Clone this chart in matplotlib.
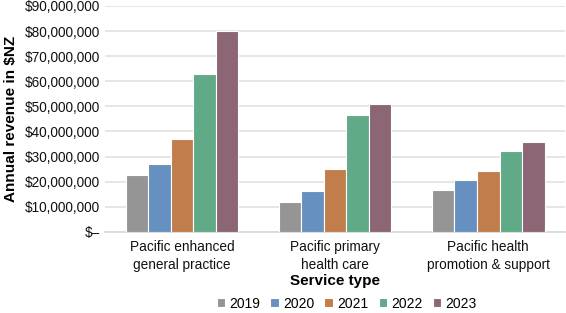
import numpy as np
import matplotlib
matplotlib.use('Agg')
import matplotlib.pyplot as plt
from matplotlib.ticker import FuncFormatter

plt.rcParams['font.family'] = ['Liberation Sans', 'DejaVu Sans']

# 데이터
services = ['Pacific enhanced\ngeneral practice', 'Pacific primary\nhealth care', 'Pacific health\npromotion & support']
years = ['2019', '2020', '2021', '2022', '2023']
rev_2019 = [22.7e6, 11.8e6, 16.8e6]
rev_2020 = [27.1e6, 16.4e6, 20.8e6]
rev_2021 = [37.1e6, 25.2e6, 24.4e6]
rev_2022 = [63.0e6, 46.4e6, 32.4e6]
rev_2023 = [80.2e6, 50.8e6, 35.8e6]
colors = ['#959595', '#6590bf', '#c17e4c', '#60aa88', '#8c6675']

series = [rev_2019, rev_2020, rev_2021, rev_2022, rev_2023]

fig = plt.figure(figsize=(5.66, 3.13), dpi=100)
ax = fig.add_axes([0.186, 0.259, 0.812, 0.722])

x = np.arange(len(services))
w = 0.147
for i, (vals, yr, c) in enumerate(zip(series, years, colors)):
    ax.bar(x + (i - 2) * w, vals, width=w, color=c, edgecolor='white', linewidth=0.8, label=yr, zorder=3)

def money(v, pos):
    if v == 0:
        return '\\$–'
    return '\\${:,.0f}'.format(v)

ax.set_ylim(0, 90e6)
ax.set_yticks(np.arange(0, 90e6 + 1, 10e6))
ax.yaxis.set_major_formatter(FuncFormatter(money))
ax.set_xlim(-0.5, 2.5)
ax.set_xticks(x)
ax.set_xticklabels(services, fontsize=9.8, linespacing=1.3)
ax.tick_params(axis='both', length=0, labelsize=9.8, colors='#111111')
ax.tick_params(axis='x', pad=6)
ax.grid(axis='y', color='#e2e2e2', linewidth=1.2, zorder=0)
for s in ['top', 'right', 'left']:
    ax.spines[s].set_visible(False)
ax.spines['bottom'].set_color('#d8d8d8')
ax.spines['bottom'].set_linewidth(1.2)

ax.set_ylabel('Annual revenue in \\$NZ', fontsize=11, fontweight='bold', labelpad=5)
ax.set_xlabel('Service type', fontsize=11, fontweight='bold', labelpad=2)

ax.legend(loc='center', bbox_to_anchor=(0.525, -0.318), ncol=5, frameon=False, fontsize=10,
          handlelength=0.6, handleheight=0.6, handletextpad=0.3, columnspacing=0.75)

fig.savefig('out.png', dpi=100)
